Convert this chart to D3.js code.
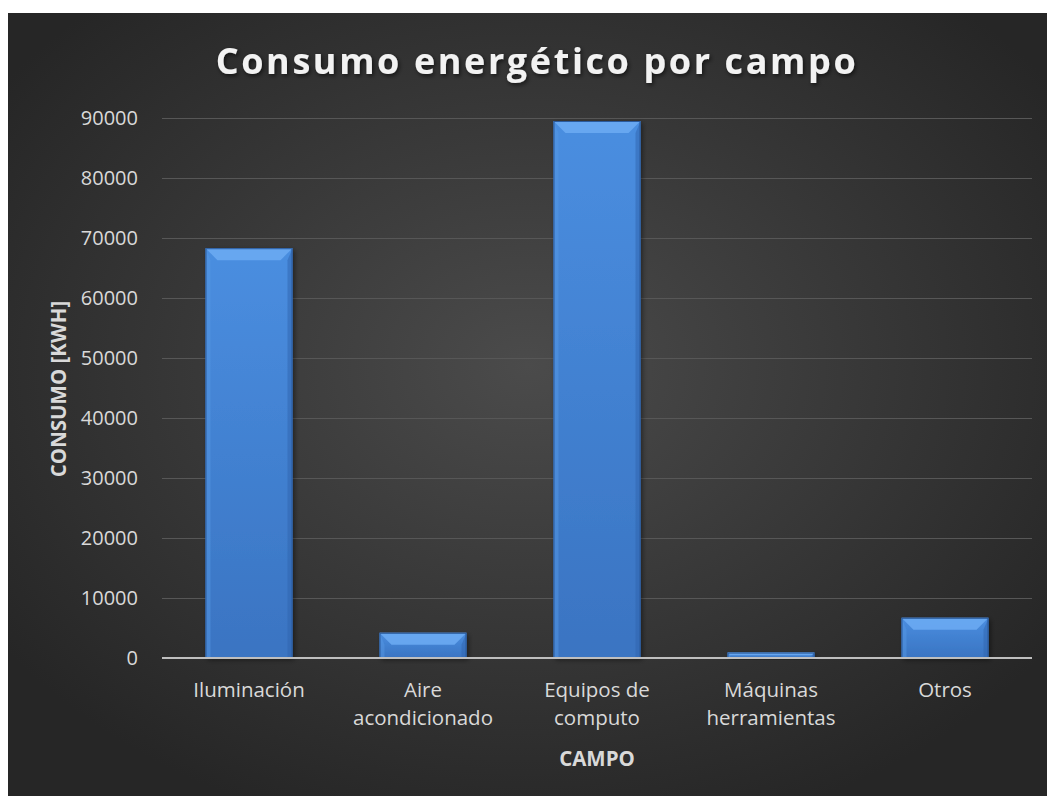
<!DOCTYPE html>
<html>
<head>
<meta charset="utf-8">
<script src="https://cdn.jsdelivr.net/npm/d3@7"></script>
<style>
  html, body { margin: 0; padding: 0; background: #ffffff; }
  svg { display: block; }
</style>
</head>
<body>
<svg id="chart" width="1047" height="796"></svg>
<script>
// Energy consumption per field, in kWh
const categories = [["Iluminación"], ["Aire", "acondicionado"], ["Equipos de", "computo"], ["Máquinas", "herramientas"], ["Otros"]];
const consumo = [68300, 4200, 89500, 900, 6700];
const yTicks = [0, 10000, 20000, 30000, 40000, 50000, 60000, 70000, 80000, 90000];

const W = 1047, H = 796;
const svg = d3.select("#chart");
const defs = svg.append("defs");

// chart background
const bg = defs.append("radialGradient").attr("id", "bgGrad")
  .attr("cx", "50%").attr("cy", "45%").attr("r", "62%");
bg.append("stop").attr("offset", "0%").attr("stop-color", "#4b4b4b");
bg.append("stop").attr("offset", "100%").attr("stop-color", "#262626");

svg.append("rect").attr("x", 8).attr("y", 13).attr("width", W - 8).attr("height", H - 13)
  .attr("fill", "url(#bgGrad)");

const font = "'Open Sans', 'Noto Sans', sans-serif";

// bar fills
const barGrad = defs.append("linearGradient").attr("id", "barGrad")
  .attr("x1", 0).attr("y1", 0).attr("x2", 0).attr("y2", 1);
barGrad.append("stop").attr("offset", "0%").attr("stop-color", "#4a8ee0");
barGrad.append("stop").attr("offset", "100%").attr("stop-color", "#3a74c2");

const shadow = defs.append("filter").attr("id", "barShadow")
  .attr("x", "-20%").attr("y", "-20%").attr("width", "140%").attr("height", "140%");
shadow.append("feDropShadow").attr("dx", 2).attr("dy", 2).attr("stdDeviation", 2.5)
  .attr("flood-color", "#000").attr("flood-opacity", 0.45);

const margin = { left: 162, right: 15, top: 118, bottom: 138 };
const plotW = W - margin.left - margin.right;
const y0 = 658;

const x = d3.scaleBand().domain(d3.range(categories.length))
  .range([margin.left, margin.left + plotW]).paddingInner(0.5).paddingOuter(0.25);
const y = d3.scaleLinear().domain([0, 90000]).range([y0, margin.top]);

// gridlines
svg.append("g").selectAll("line").data(yTicks.filter(d => d > 0)).join("line")
  .attr("x1", margin.left).attr("x2", margin.left + plotW)
  .attr("y1", d => Math.round(y(d)) + 0.5).attr("y2", d => Math.round(y(d)) + 0.5)
  .attr("stroke", "#575757").attr("stroke-width", 1);

// y axis labels
const yAxis = d3.axisLeft(y).tickValues(yTicks).tickSize(0).tickPadding(0).tickFormat(d3.format("d"));
const gy = svg.append("g").attr("transform", `translate(${138},0)`).call(yAxis);
gy.select(".domain").remove();
gy.selectAll("text").attr("fill", "#d9d9d9").style("font-family", font).style("font-size", "20px");

// bars with bevel
const bars = svg.append("g").selectAll("g").data(consumo).join("g");
bars.each(function(v, i) {
  const g = d3.select(this);
  const bx = x(i), bw = x.bandwidth(), by = y(v), bh = y0 - by;
  const b = Math.min(12, bh / 2, bw / 2);
  const s = Math.min(5, b);
  g.append("rect").attr("x", bx).attr("y", by).attr("width", bw).attr("height", bh)
    .attr("fill", "url(#barGrad)").attr("filter", "url(#barShadow)");
  // left bevel
  g.append("path").attr("d", `M${bx},${by}L${bx + s},${by + b}L${bx + s},${y0}L${bx},${y0}Z`)
    .attr("fill", "#5597e4").attr("opacity", 0.5);
  // right bevel
  g.append("path").attr("d", `M${bx + bw},${by}L${bx + bw - s},${by + b}L${bx + bw - s},${y0}L${bx + bw},${y0}Z`)
    .attr("fill", "#2f64ad").attr("opacity", 0.5);
  // top bevel
  g.append("path").attr("d", `M${bx},${by}L${bx + bw},${by}L${bx + bw - b},${by + b}L${bx + b},${by + b}Z`)
    .attr("fill", "#6aaaf2").attr("opacity", 0.9);
  g.append("rect").attr("x", bx + 0.5).attr("y", by + 0.5).attr("width", bw - 1).attr("height", Math.max(0, bh - 1))
    .attr("fill", "none").attr("stroke", "#2a5a9c").attr("stroke-width", 1);
});

// baseline
svg.append("line").attr("x1", margin.left).attr("x2", margin.left + plotW)
  .attr("y1", y0).attr("y2", y0).attr("stroke", "#bfbfbf").attr("stroke-width", 2);

// category labels
const cat = svg.append("g").selectAll("text").data(categories).join("text")
  .attr("x", (d, i) => x(i) + x.bandwidth() / 2).attr("y", 697)
  .attr("text-anchor", "middle").attr("fill", "#d9d9d9")
  .style("font-family", font).style("font-size", "20.5px");
cat.selectAll("tspan").data(d => d).join("tspan")
  .attr("x", function() { return this.parentNode.getAttribute("x"); })
  .attr("dy", (d, j) => j === 0 ? 0 : 28).text(d => d);

// axis titles
svg.append("text").attr("x", x.range()[0] + (x.range()[1] - x.range()[0]) / 2).attr("y", 766)
  .attr("text-anchor", "middle").attr("fill", "#d9d9d9")
  .style("font-family", font).style("font-size", "20.5px").style("font-weight", "bold").text("CAMPO");

svg.append("text").attr("transform", "translate(66,389) rotate(-90)")
  .attr("text-anchor", "middle").attr("fill", "#d9d9d9")
  .style("font-family", font).style("font-size", "20.5px").style("font-weight", "bold").text("CONSUMO [KWH]");

// title
const tshadow = defs.append("filter").attr("id", "titleShadow");
tshadow.append("feDropShadow").attr("dx", 1.5).attr("dy", 2).attr("stdDeviation", 2)
  .attr("flood-color", "#000").attr("flood-opacity", 0.6);
svg.append("text").attr("x", 537).attr("y", 74).attr("text-anchor", "middle")
  .attr("fill", "#f2f2f2").attr("filter", "url(#titleShadow)")
  .style("font-family", font).style("font-size", "36px").style("font-weight", "bold")
  .style("letter-spacing", "2.6px").text("Consumo energético por campo");
</script>
</body>
</html>
